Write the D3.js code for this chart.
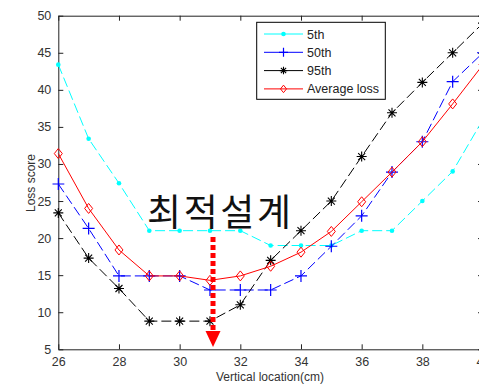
<!DOCTYPE html>
<html>
<head>
<meta charset="utf-8">
<script src="https://cdn.jsdelivr.net/npm/d3@7"></script>
<style>
  body { margin: 0; background: #fff; }
  svg { display: block; font-family: "Liberation Sans", Arial, sans-serif; }
</style>
</head>
<body>
<svg id="chart" width="479" height="384"></svg>
<script>
// data
const locations = [26, 27, 28, 29, 30, 31, 32, 33, 34, 35, 36, 37, 38, 39, 40];
const p5th  = [43.4, 33.4, 27.4, 21, 21, 21, 21, 19, 19, 19, 21, 21, 25, 29, 36];
const p50th = [27.3, 21.3, 14.9, 14.9, 14.9, 13, 13, 13, 14.9, 18.9, 23, 28.9, 33, 41.1, 45];
const p95th = [23.4, 17.3, 13.2, 8.8, 8.8, 8.8, 11, 17, 21, 25, 31, 36.9, 41, 45, 49];
const avgLoss = [31.4, 24, 18.4, 14.9, 14.9, 14.3, 14.9, 16.2, 18.1, 20.9, 24.9, 28.9, 33, 38.1, 43.4];
const xTicks = [26, 28, 30, 32, 34, 36, 38, 40];
const yTicks = [5, 10, 15, 20, 25, 30, 35, 40, 45, 50];
const seriesNames = ['5th', '50th', '95th', 'Average loss'];
const optimum = 31.1;

const svg = d3.select('#chart');
const plotLeft = 58.3, plotRight = 483, plotTop = 15.7, plotBottom = 349.3;

const x = d3.scaleLinear().domain([26, 40]).range([plotLeft, plotRight]);
const y = d3.scaleLinear().domain([5, 50]).range([plotBottom, plotTop]);

// axes box with inward ticks
const axisColor = '#222';
svg.append('g').attr('transform', `translate(0,${plotBottom})`)
    .call(d3.axisBottom(x).tickValues(xTicks).tickSizeInner(-5).tickSizeOuter(0).tickPadding(8));
svg.append('g').attr('transform', `translate(0,${plotTop})`)
    .call(d3.axisTop(x).tickValues(xTicks).tickSizeInner(-5).tickSizeOuter(0).tickFormat(''));
svg.append('g').attr('transform', `translate(${plotLeft},0)`)
    .call(d3.axisLeft(y).tickValues(yTicks).tickSizeInner(-5).tickSizeOuter(0).tickPadding(7));
svg.append('g').attr('transform', `translate(${plotRight},0)`)
    .call(d3.axisRight(y).tickValues(yTicks).tickSizeInner(-5).tickSizeOuter(0).tickFormat(''));

svg.selectAll('.domain').attr('stroke', axisColor);
svg.selectAll('.tick line').attr('stroke', axisColor);
svg.selectAll('.tick text').attr('fill', '#333').attr('font-size', 12.5)
    .attr('font-family', '"Liberation Sans", Arial, sans-serif');

// axis titles
svg.append('text').attr('x', 270).attr('y', 381).attr('text-anchor', 'middle')
    .attr('font-size', 12).attr('fill', '#333').text('Vertical location(cm)');
svg.append('text').attr('transform', 'translate(35,183) rotate(-90)').attr('text-anchor', 'middle')
    .attr('font-size', 12).attr('fill', '#333').text('Loss score');

const series = [
    { name: seriesNames[0], values: p5th, color: '#00ffff', dash: '10,4', marker: 'dot' },
    { name: seriesNames[1], values: p50th, color: '#0000ff', dash: '10,4', marker: 'plus' },
    { name: seriesNames[2], values: p95th, color: '#000000', dash: '10,4', marker: 'star' },
    { name: seriesNames[3], values: avgLoss, color: '#ff0000', dash: null, marker: 'diamond' }
];

svg.append('clipPath').attr('id', 'plotClip').append('rect')
    .attr('x', plotLeft - 6).attr('y', plotTop - 6)
    .attr('width', plotRight - plotLeft + 12).attr('height', plotBottom - plotTop + 12);

const line = d3.line().x((d, i) => x(locations[i])).y(d => y(d));

function drawMarker(g, type, color, k = 1) {
    if (type === 'dot') {
        g.append('circle').attr('r', 2.3).attr('fill', color);
    } else if (type === 'plus') {
        g.append('path').attr('d', `M${-6 * k},0H${6 * k}M0,${-6 * k}V${6 * k}`)
            .attr('stroke', color).attr('stroke-width', 1.2);
    } else if (type === 'star') {
        const a = 5 * k, b = 3.5 * k;
        g.append('path').attr('d', `M${-a},0H${a}M0,${-a}V${a}M${-b},${-b}L${b},${b}M${-b},${b}L${b},${-b}`)
            .attr('stroke', color).attr('stroke-width', 1.1);
    } else {
        g.append('path').attr('d', `M0,${-5 * k}L${4 * k},0L0,${5 * k}L${-4 * k},0Z`).attr('fill', 'none')
            .attr('stroke', color).attr('stroke-width', 1);
    }
}

const plot = svg.append('g').attr('clip-path', 'url(#plotClip)');
series.forEach(s => {
    plot.append('path').datum(s.values)
        .attr('d', line)
        .attr('fill', 'none')
        .attr('stroke', s.color)
        .attr('stroke-width', 1)
        .attr('stroke-dasharray', s.dash);
    s.values.forEach((v, i) => {
        const g = plot.append('g').attr('transform', `translate(${x(locations[i])},${y(v)})`);
        drawMarker(g, s.marker, s.color);
    });
});

// legend
const legend = svg.append('g');
legend.append('rect').attr('x', 256.7).attr('y', 22.3).attr('width', 128.6).attr('height', 77)
    .attr('fill', '#fff').attr('stroke', '#000').attr('stroke-width', 1);
series.forEach((s, i) => {
    const ly = 34 + i * 18.3;
    legend.append('line').attr('x1', 264).attr('x2', 303).attr('y1', ly).attr('y2', ly)
        .attr('stroke', s.color).attr('stroke-width', 1);
    drawMarker(legend.append('g').attr('transform', `translate(283.5,${ly})`), s.marker, s.color, 0.75);
    legend.append('text').attr('x', 307).attr('y', ly + 4.5).attr('font-size', 12.5)
        .attr('fill', '#222').text(s.name);
});

// annotation
svg.append('text').attr('x', 147).attr('y', 226)
    .attr('font-family', '"Noto Sans CJK KR", sans-serif').attr('font-size', 37)
    .attr('textLength', 144).attr('lengthAdjust', 'spacing')
    .attr('fill', '#111').text('최적설계');

const ax = x(optimum);
svg.append('line').attr('x1', ax).attr('x2', ax).attr('y1', 237).attr('y2', 331)
    .attr('stroke', '#ff0000').attr('stroke-width', 5).attr('stroke-dasharray', '5,3');
svg.append('path').attr('d', `M${ax - 7.5},331L${ax + 7.5},331L${ax},347Z`).attr('fill', '#ff0000');
</script>
</body>
</html>
